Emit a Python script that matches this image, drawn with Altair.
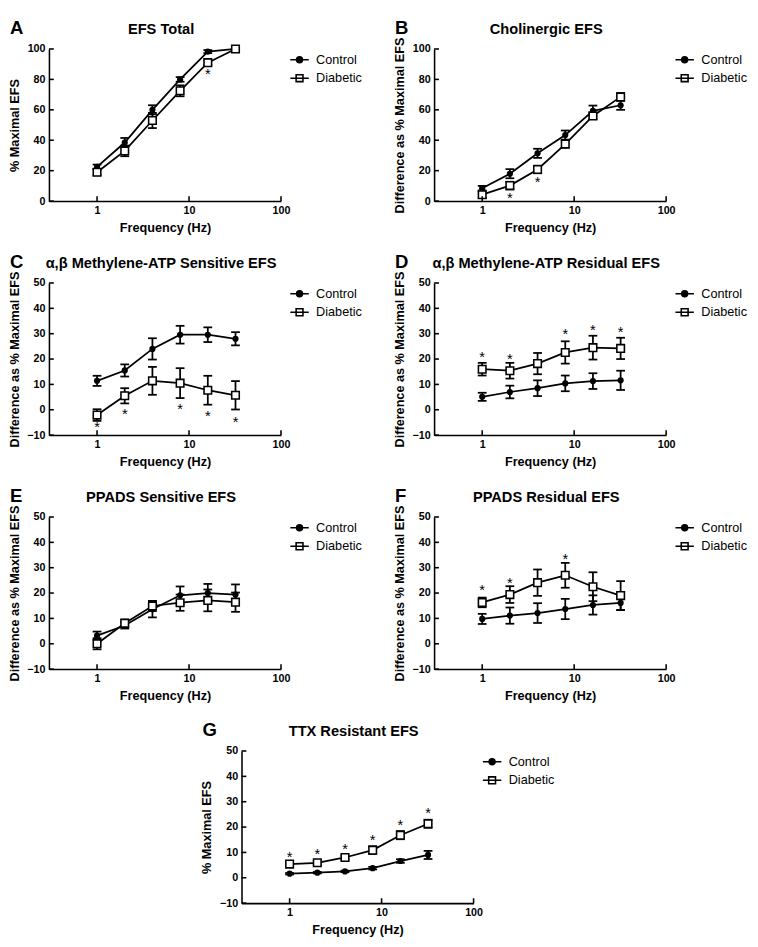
import altair as alt
import pandas as pd

FONT = "Liberation Sans"

freqs = [1, 2, 4, 8, 16, 32]
groups = ["Control", "Diabetic"]
x_ticks = [1, 10, 100]
y_ticks_100 = [0, 20, 40, 60, 80, 100]
y_ticks_50 = [-10, 0, 10, 20, 30, 40, 50]

# Panel A - EFS Total
a_ctrl = [22.5, 38.5, 60, 80, 98.3, 100]
a_ctrl_sem = [1.5, 3, 3, 1.5, 1, 0]
a_diab = [19, 33, 53, 72.5, 91, 100]
a_diab_sem = [2, 3.5, 5, 3.6, 1.5, 0]
a_star_x = [16]
a_star_y = [85]

# Panel B - Cholinergic EFS
b_ctrl = [8.5, 18, 31.4, 43.4, 59.3, 63]
b_ctrl_sem = [1.5, 3, 3, 3, 3.5, 3]
b_diab = [4.2, 10.2, 20.8, 37.5, 56, 68.5]
b_diab_sem = [2, 2.5, 2.5, 2.5, 2, 2.5]
b_star_x = [2, 4]
b_star_y = [3.2, 13.8]

# Panel C - a,b Methylene-ATP Sensitive EFS
c_ctrl = [11.4, 15.5, 24, 29.6, 29.6, 28]
c_ctrl_sem = [2, 2.4, 4.2, 3.5, 2.9, 2.6]
c_diab = [-2.1, 5.5, 11.4, 10.5, 7.7, 5.7]
c_diab_sem = [2.3, 3, 5.5, 5.9, 5.7, 5.6]
c_star_x = [1, 2, 8, 16, 32]
c_star_y = [-6.2, -0.8, 1.1, -1.8, -4.1]

# Panel D - a,b Methylene-ATP Residual EFS
d_ctrl = [5.1, 7, 8.5, 10.4, 11.3, 11.6]
d_ctrl_sem = [1.6, 2.5, 3.1, 3.1, 3.1, 3.8]
d_diab = [16, 15.4, 18.2, 22.6, 24.5, 24.2]
d_diab_sem = [2.5, 3.1, 4.2, 4.4, 4.7, 4.2]
d_star_x = [1, 2, 8, 16, 32]
d_star_y = [21.7, 20.9, 30.5, 32, 31.5]

# Panel E - PPADS Sensitive EFS
e_ctrl = [3.2, 7.2, 13.6, 19.1, 20, 19.4]
e_ctrl_sem = [1.6, 1.2, 3.2, 3.5, 3.6, 4]
e_diab = [0, 8.1, 14.9, 16.2, 17.1, 16.4]
e_diab_sem = [2.2, 1.5, 2, 3.2, 4.3, 3.8]
e_star_x = []
e_star_y = []

# Panel F - PPADS Residual EFS
f_ctrl = [9.8, 11.1, 12.1, 13.7, 15.3, 16.1]
f_ctrl_sem = [2, 3.2, 3.9, 4, 3.8, 2.8]
f_diab = [16.3, 19.4, 24.1, 27, 22.5, 19]
f_diab_sem = [1.9, 3.3, 5.2, 4.9, 5.7, 5.7]
f_star_x = [1, 2, 8]
f_star_y = [21.8, 24.7, 34]

# Panel G - TTX Resistant EFS
g_ctrl = [1.6, 2, 2.5, 3.8, 6.6, 9]
g_ctrl_sem = [0.3, 0.3, 0.3, 0.5, 0.7, 1.6]
g_diab = [5.4, 5.9, 8, 10.9, 16.8, 21.3]
g_diab_sem = [0.6, 0.8, 0.8, 1.5, 1.6, 1.6]
g_star_x = [1, 2, 4, 8, 16, 32]
g_star_y = [9, 9.9, 12.2, 15.6, 21.6, 26.3]

W = 238
H = 156

CTRL_PATH = "M-1.35,0H1.35M0.43,0A0.43,0.43,0,1,1,-0.43,0A0.43,0.43,0,1,1,0.43,0Z"
DIAB_PATH = "M-0.5,-0.5H0.5V0.5H-0.5ZM-1.35,0H1.35"


def make_panel(letter, title, ytitle, ydomain, yticks, c_mean, c_sem, d_mean, d_sem, sx, sy):
    df = pd.DataFrame({
        "freq": freqs + freqs,
        "group": ["Control"] * len(freqs) + ["Diabetic"] * len(freqs),
        "mean": c_mean + d_mean,
        "sem": c_sem + d_sem,
    })
    xscale = alt.Scale(type="log", domain=[0.3, 100], nice=False)
    yscale = alt.Scale(domain=ydomain, nice=False, zero=False)
    xaxis = alt.Axis(values=x_ticks, format="~g", grid=False, ticks=False, tickSize=0,
                     labelFont=FONT, labelFontSize=11, labelFontWeight="bold", labelPadding=4,
                     labelFlush=False, labelOverlap=False,
                     domainColor="black", domainWidth=1.6,
                     title="Frequency (Hz)", titleFont=FONT, titleFontSize=13,
                     titleFontWeight="bold", titlePadding=6)
    yaxis = alt.Axis(values=yticks, grid=False, ticks=False, tickSize=0,
                     labelFont=FONT, labelFontSize=11, labelFontWeight="bold", labelPadding=4,
                     labelFlush=False, labelOverlap=False,
                     domainColor="black", domainWidth=1.6,
                     title=ytitle, titleFont=FONT, titleFontSize=13,
                     titleFontWeight="bold", titlePadding=6)

    def X(f):
        return alt.X(f"{f}:Q", scale=xscale, axis=xaxis)

    def Y(f):
        return alt.Y(f"{f}:Q", scale=yscale, axis=yaxis)

    base = alt.Chart(df).transform_calculate(
        lo="datum.mean - datum.sem", hi="datum.mean + datum.sem"
    )
    lines = base.mark_line(color="black", strokeWidth=1.8).encode(
        x=X("freq"), y=Y("mean"), detail="group:N")
    stems = base.mark_rule(color="black", strokeWidth=1.8).encode(
        x=X("freq"), y=Y("lo"), y2="hi:Q")
    cap_lo = base.mark_tick(color="black", orient="horizontal", size=9, thickness=1.8,
                            opacity=1).encode(x=X("freq"), y=Y("lo"))
    cap_hi = base.mark_tick(color="black", orient="horizontal", size=9, thickness=1.8,
                            opacity=1).encode(x=X("freq"), y=Y("hi"))
    ctrl_pts = base.transform_filter("datum.group == 'Control'").mark_point(
        shape="circle", filled=True, color="black", size=40, opacity=1).encode(
        x=X("freq"), y=Y("mean"))
    diab_pts = base.transform_filter("datum.group == 'Diabetic'").mark_point(
        shape="square", filled=True, fill="white", stroke="black", strokeWidth=1.6,
        size=60, opacity=1).encode(x=X("freq"), y=Y("mean"))

    leg = alt.Legend(title=None, orient="right", offset=8, padding=3,
                     symbolSize=196, symbolStrokeColor="black", symbolStrokeWidth=1.6,
                     labelFont=FONT, labelFontSize=13, labelColor="black",
                     labelOffset=9, rowPadding=4)
    legend_layer = base.transform_filter("false").mark_point(
        filled=True, strokeWidth=1.6, size=196, opacity=1).encode(
        fill=alt.Fill("group:N", scale=alt.Scale(domain=groups, range=["black", "white"]),
                      legend=leg),
        stroke=alt.Stroke("group:N", scale=alt.Scale(domain=groups, range=["black", "black"]),
                          legend=leg),
        shape=alt.Shape("group:N", scale=alt.Scale(domain=groups, range=[CTRL_PATH, DIAB_PATH]),
                        legend=leg),
    )

    xt = alt.Chart(pd.DataFrame({"t": x_ticks})).mark_rule(
        color="black", strokeWidth=1.6).encode(
        x=X("t"), y=alt.value(H), y2=alt.value(H - 5))
    yt = alt.Chart(pd.DataFrame({"t": yticks})).mark_rule(
        color="black", strokeWidth=1.6).encode(
        y=Y("t"), x=alt.value(0), x2=alt.value(5))

    layers = [lines, stems, cap_lo, cap_hi, ctrl_pts, diab_pts, legend_layer, xt, yt]
    if len(sx) > 0:
        stars = alt.Chart(pd.DataFrame({"freq": sx, "y": sy})).mark_text(
            text="*", fontSize=15, font=FONT, color="black", baseline="middle", dy=2).encode(
            x=X("freq"), y=Y("y"))
        layers.append(stars)
    letter_layer = alt.Chart(pd.DataFrame({"l": [letter]})).mark_text(
        align="left", baseline="alphabetic", fontSize=19, fontWeight="bold", font=FONT,
        color="black").encode(text="l:N", x=alt.value(-40), y=alt.value(-15))
    title_layer = alt.Chart(pd.DataFrame({"t": [title]})).mark_text(
        align="center", baseline="alphabetic", fontSize=15, fontWeight="bold", font=FONT,
        color="black").encode(text="t:N", x=alt.value(W / 2 - 4), y=alt.value(-15))
    layers += [letter_layer, title_layer]

    return alt.layer(*layers).properties(width=W, height=H)


pA = make_panel("A", "EFS Total", "% Maximal EFS", [0, 100], y_ticks_100,
                a_ctrl, a_ctrl_sem, a_diab, a_diab_sem, a_star_x, a_star_y)
pB = make_panel("B", "Cholinergic EFS", "Difference as % Maximal EFS", [0, 100], y_ticks_100,
                b_ctrl, b_ctrl_sem, b_diab, b_diab_sem, b_star_x, b_star_y)
pC = make_panel("C", "α,β Methylene-ATP Sensitive EFS", "Difference as % Maximal EFS", [-10, 50],
                y_ticks_50, c_ctrl, c_ctrl_sem, c_diab, c_diab_sem, c_star_x, c_star_y)
pD = make_panel("D", "α,β Methylene-ATP Residual EFS", "Difference as % Maximal EFS", [-10, 50],
                y_ticks_50, d_ctrl, d_ctrl_sem, d_diab, d_diab_sem, d_star_x, d_star_y)
pE = make_panel("E", "PPADS Sensitive EFS", "Difference as % Maximal EFS", [-10, 50],
                y_ticks_50, e_ctrl, e_ctrl_sem, e_diab, e_diab_sem, e_star_x, e_star_y)
pF = make_panel("F", "PPADS Residual EFS", "Difference as % Maximal EFS", [-10, 50],
                y_ticks_50, f_ctrl, f_ctrl_sem, f_diab, f_diab_sem, f_star_x, f_star_y)
pG = make_panel("G", "TTX Resistant EFS", "% Maximal EFS", [-10, 50],
                y_ticks_50, g_ctrl, g_ctrl_sem, g_diab, g_diab_sem, g_star_x, g_star_y)


def indep(c):
    return c.resolve_scale(fill="independent", stroke="independent", shape="independent").resolve_legend(
        fill="independent", stroke="independent", shape="independent")


def row(a, b):
    return indep(alt.hconcat(a, b, spacing=29))


chart = indep(alt.vconcat(row(pA, pB), row(pC, pD), row(pE, pF), pG, spacing=20, center=True)).properties(
    padding=0).configure_view(stroke=None).configure_axis(labelColor="black", titleColor="black")

chart.save("out.html", embed_options={"renderer": "svg", "actions": False})
